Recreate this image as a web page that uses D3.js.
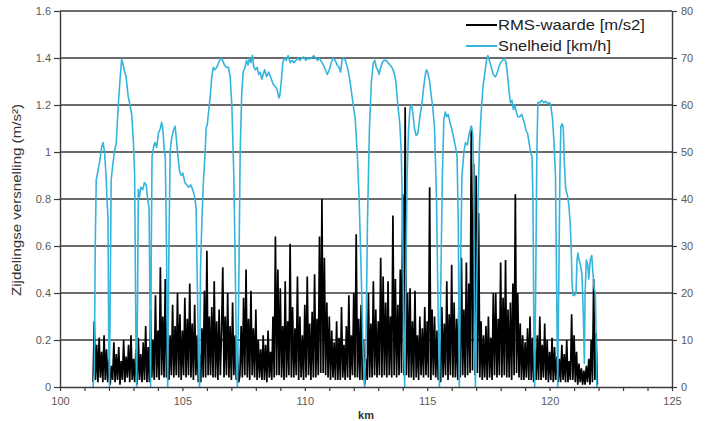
<!DOCTYPE html>
<html>
<head>
<meta charset="utf-8">
<script src="https://cdn.jsdelivr.net/npm/d3@7"></script>
<style>
  body { margin: 0; background: #fff; }
  svg { display: block; font-family: "Liberation Sans", Arial, sans-serif; }
</style>
</head>
<body>
<div id="chart"></div>
<script>
// axis ticks
const kmTicks = [100, 101, 102, 103, 104, 105, 106, 107, 108, 109, 110, 111, 112, 113, 114, 115, 116, 117, 118, 119, 120, 121, 122, 123, 124, 125];
const kmLabels = [100, 105, 110, 115, 120, 125];
const rmsTicks = [0, 0.2, 0.4, 0.6, 0.8, 1, 1.2, 1.4, 1.6];
const speedTicks = [0, 10, 20, 30, 40, 50, 60, 70, 80];

// legend
const seriesNames = ["RMS-waarde [m/s2]", "Snelheid [km/h]"];

// RMS-waarde, one sample every 0.05 km from 101.35 km
const rmsStart = 101.35;
const rmsStep = 0.05;
const rmsValues = [
  0.02, 0.28, 0.03, 0.18, 0.02, 0.21, 0.04, 0.15, 0.02, 0.22, 0.03, 0.16, 0.02, 0.12, 0.01, 0.09, 0.03, 0.19, 0.02, 0.14,
  0.03, 0.17, 0.01, 0.11, 0.03, 0.20, 0.02, 0.13, 0.04, 0.18, 0.02, 0.22, 0.03, 0.12, 0.02, 0.16, 0.01, 0.21, 0.03, 0.14,
  0.02, 0.19, 0.03, 0.26, 0.02, 0.17, 0.02, 0.33, 0.04, 0.20, 0.03, 0.39, 0.04, 0.24, 0.03, 0.51, 0.05, 0.30, 0.04, 0.46,
  0.04, 0.28, 0.03, 0.22, 0.05, 0.35, 0.04, 0.26, 0.05, 0.40, 0.04, 0.31, 0.03, 0.24, 0.05, 0.38, 0.04, 0.29, 0.05, 0.44,
  0.04, 0.27, 0.03, 0.35, 0.05, 0.22, 0.02, 0.14, 0.02, 0.25, 0.04, 0.41, 0.04, 0.58, 0.05, 0.30, 0.05, 0.34, 0.04, 0.45,
  0.04, 0.28, 0.03, 0.33, 0.05, 0.24, 0.51, 0.04, 0.30, 0.05, 0.40, 0.04, 0.26, 0.03, 0.36, 0.05, 0.22, 0.03, 0.14, 0.02,
  0.05, 0.26, 0.04, 0.38, 0.05, 0.50, 0.04, 0.29, 0.03, 0.41, 0.05, 0.25, 0.04, 0.33, 0.03, 0.20, 0.04, 0.16, 0.03, 0.22,
  0.03, 0.18, 0.02, 0.24, 0.04, 0.15, 0.03, 0.30, 0.04, 0.64, 0.05, 0.50, 0.05, 0.42, 0.04, 0.26, 0.03, 0.45, 0.04, 0.28,
  0.05, 0.61, 0.04, 0.34, 0.04, 0.25, 0.05, 0.47, 0.03, 0.30, 0.04, 0.22, 0.03, 0.35, 0.04, 0.47, 0.05, 0.27, 0.03, 0.32,
  0.04, 0.48, 0.04, 0.29, 0.05, 0.64, 0.06, 0.80, 0.06, 0.55, 0.05, 0.36, 0.04, 0.30, 0.03, 0.24, 0.04, 0.19, 0.03, 0.28,
  0.03, 0.21, 0.03, 0.34, 0.04, 0.18, 0.03, 0.26, 0.04, 0.39, 0.03, 0.22, 0.05, 0.40, 0.04, 0.65, 0.04, 0.29, 0.03, 0.35,
  0.03, 0.20, 0.01, 0.12, 0.03, 0.40, 0.04, 0.27, 0.04, 0.45, 0.05, 0.33, 0.04, 0.28, 0.05, 0.55, 0.04, 0.47, 0.05, 0.36,
  0.04, 0.45, 0.05, 0.30, 0.04, 0.73, 0.05, 0.46, 0.04, 0.35, 0.05, 0.50, 0.06, 0.82, 0.05, 1.19, 0.05, 0.40, 0.04, 0.42,
  0.04, 0.28, 0.03, 0.41, 0.04, 0.22, 0.03, 0.30, 0.05, 0.25, 0.04, 0.34, 0.05, 0.28, 0.04, 0.85, 0.03, 0.33, 0.05, 0.30,
  0.04, 0.24, 0.03, 0.20, 0.02, 0.34, 0.04, 0.27, 0.05, 0.45, 0.03, 0.31, 0.05, 0.52, 0.04, 0.36, 0.04, 0.29, 0.03, 0.40,
  0.04, 0.55, 0.05, 0.33, 0.04, 0.53, 0.05, 0.44, 0.06, 1.11, 0.07, 0.95, 0.05, 0.90, 0.06, 0.74, 0.04, 0.28, 0.03, 0.22,
  0.04, 0.26, 0.03, 0.30, 0.04, 0.21, 0.03, 0.40, 0.05, 0.40, 0.04, 0.29, 0.05, 0.53, 0.04, 0.38, 0.05, 0.54, 0.04, 0.33,
  0.04, 0.36, 0.03, 0.44, 0.05, 0.82, 0.06, 0.40, 0.04, 0.27, 0.03, 0.22, 0.03, 0.19, 0.04, 0.25, 0.03, 0.30, 0.03, 0.21,
  0.02, 0.16, 0.03, 0.22, 0.03, 0.30, 0.03, 0.18, 0.04, 0.27, 0.03, 0.20, 0.02, 0.15, 0.03, 0.21, 0.02, 0.17, 0.03, 0.13,
  0.02, 0.12, 0.02, 0.18, 0.03, 0.14, 0.02, 0.20, 0.02, 0.11, 0.03, 0.31, 0.03, 0.22, 0.02, 0.15, 0.01, 0.10, 0.02, 0.08,
  0.01, 0.07, 0.01, 0.09, 0.02, 0.12, 0.01, 0.20, 0.02, 0.46, 0.03, 0.23, 0.01
];

// Snelheid
const speedKm = [
  101.35, 101.40, 101.44, 101.48, 101.55, 101.62, 101.70, 101.76, 101.82, 101.88, 101.92, 101.96, 101.99, 102.02,
  102.06, 102.09, 102.15, 102.22, 102.30, 102.38, 102.46, 102.52, 102.56, 102.62, 102.70, 102.78, 102.86, 102.93,
  103.00, 103.05, 103.10, 103.13, 103.17, 103.20, 103.25, 103.30, 103.38, 103.45, 103.52, 103.58, 103.64, 103.67,
  103.70, 103.73, 103.76, 103.82, 103.88, 103.95, 104.02, 104.10, 104.15, 104.20, 104.25, 104.30, 104.35, 104.40,
  104.45, 104.50, 104.56, 104.63, 104.70, 104.75, 104.80, 104.88, 104.95, 105.02, 105.10, 105.18, 105.26, 105.34,
  105.42, 105.50, 105.56, 105.60, 105.66, 105.70, 105.74, 105.80, 105.86, 105.92, 105.97, 106.02, 106.08, 106.14,
  106.20, 106.26, 106.32, 106.40, 106.48, 106.56, 106.64, 106.72, 106.80, 106.88, 106.95, 107.02, 107.10, 107.16,
  107.21, 107.25, 107.30, 107.36, 107.42, 107.48, 107.56, 107.62, 107.68, 107.74, 107.80, 107.86, 107.92, 107.98,
  108.05, 108.12, 108.18, 108.24, 108.30, 108.36, 108.44, 108.52, 108.60, 108.70, 108.78, 108.86, 108.94, 108.98,
  109.04, 109.10, 109.16, 109.24, 109.32, 109.40, 109.48, 109.56, 109.64, 109.72, 109.80, 109.88, 109.96, 110.04,
  110.12, 110.20, 110.28, 110.36, 110.44, 110.52, 110.60, 110.68, 110.76, 110.84, 110.92, 111.00, 111.08, 111.16,
  111.24, 111.32, 111.40, 111.46, 111.52, 111.58, 111.66, 111.74, 111.82, 111.90, 111.98, 112.06, 112.14, 112.22,
  112.30, 112.38, 112.44, 112.50, 112.56, 112.64, 112.72, 112.80, 112.86, 112.92, 112.98, 113.04, 113.10, 113.16,
  113.24, 113.32, 113.40, 113.48, 113.56, 113.64, 113.72, 113.80, 113.88, 113.94, 114.00, 114.04, 114.08, 114.12,
  114.18, 114.24, 114.30, 114.36, 114.42, 114.48, 114.55, 114.62, 114.70, 114.78, 114.86, 114.94, 114.98, 115.04,
  115.10, 115.16, 115.22, 115.30, 115.38, 115.45, 115.50, 115.55, 115.62, 115.68, 115.74, 115.80, 115.86, 115.92,
  116.00, 116.08, 116.16, 116.22, 116.27, 116.31, 116.36, 116.42, 116.50, 116.56, 116.64, 116.72, 116.80, 116.86,
  116.90, 116.94, 116.97, 117.02, 117.08, 117.14, 117.20, 117.28, 117.36, 117.42, 117.48, 117.54, 117.62, 117.70,
  117.78, 117.84, 117.92, 118.00, 118.08, 118.16, 118.22, 118.28, 118.34, 118.40, 118.46, 118.52, 118.58, 118.64,
  118.70, 118.78, 118.86, 118.92, 118.98, 119.04, 119.10, 119.16, 119.22, 119.28, 119.32, 119.36, 119.39, 119.43,
  119.48, 119.52, 119.60, 119.68, 119.76, 119.84, 119.92, 120.00, 120.06, 120.12, 120.18, 120.24, 120.29, 120.33,
  120.37, 120.42, 120.46, 120.52, 120.56, 120.60, 120.66, 120.72, 120.78, 120.84, 120.88, 120.92, 120.96, 121.02,
  121.08, 121.12, 121.16, 121.20, 121.26, 121.32, 121.38, 121.42, 121.45, 121.50, 121.56, 121.60, 121.66, 121.72,
  121.76, 121.82, 121.87, 121.90, 121.93
];
const speedKmh = [
  0, 3, 30, 44, 46, 48, 51, 52, 50, 45, 40, 36, 10, 0,
  25, 44, 47, 50, 52, 60, 66, 69.8, 69, 67.5, 66, 62, 60, 58,
  52, 45, 10, 0, 20, 42, 40.5, 42.5, 42, 43.5, 43, 40, 38, 20,
  0, 30, 49, 51, 52, 51, 54, 55, 56.3, 55, 51, 49, 30, 0,
  30, 50, 53, 54.5, 55.5, 53, 50, 46, 45, 45.5, 43.5, 43, 42.5, 43,
  42, 40.5, 38, 25, 5, 0, 25, 36, 44, 49, 55, 56, 59, 62,
  66, 68, 67.5, 68, 69, 70, 69.5, 68.5, 68, 68, 66, 60, 45, 25,
  5, 0, 20, 50, 62, 67, 68, 69.5, 68.5, 70, 69, 70.5, 68, 67.5,
  68, 66.5, 67, 65.5, 66.5, 67.5, 66, 67, 66, 64.5, 64, 63.5, 61.5, 62,
  65, 69, 70, 69.5, 70.5, 69, 69.5, 69, 69.5, 70, 69.5, 70, 70.2, 69.5,
  70, 69.8, 70, 70.5, 70, 69.5, 70, 69.2, 68.5, 67.5, 66.5, 67.5, 69, 70,
  69.5, 68.5, 68, 67, 69.5, 70, 69.5, 68, 66, 63, 60, 57, 50, 40,
  25, 8, 0, 10, 35, 55, 65, 69, 69.5, 68, 67.5, 66.5, 68, 69,
  69.5, 69.5, 69, 68.5, 68, 67, 65, 60, 56, 50, 35, 10, 0, 20,
  45, 55, 59.5, 60, 58, 55, 53.5, 54, 57.5, 60, 64, 67, 67.5, 66.5,
  65, 62, 60, 55, 40, 15, 0, 20, 45, 57, 58.5, 57.5, 58, 56.5,
  55, 53, 51, 49, 35, 0, 25, 45, 50, 52, 51.5, 54, 55.5, 54,
  45, 10, 0, 20, 40, 52, 58, 64, 67, 69.5, 70.5, 69.5, 68, 66.5,
  66, 66.5, 68, 69, 69.5, 70, 69, 66.5, 63, 60.5, 61, 59, 60, 58.5,
  57.5, 57.5, 58, 57, 56, 54.5, 54, 52, 50, 49, 40, 10, 0, 20,
  50, 60.5, 60.5, 61, 60.5, 60.8, 60.3, 60.5, 59.5, 57, 52, 45, 20, 0,
  20, 45, 55.5, 56, 55, 48, 42, 41, 39, 35, 30, 22, 19.5, 19.5,
  20, 27, 28.5, 27, 26, 24, 15, 5, 20, 27, 26, 23, 27, 28,
  25, 21, 20, 10, 0
];

const width = 708;
const height = 421;
const margin = { top: 11, right: 36, bottom: 34, left: 60 };

const rms = rmsValues.map((v, i) => ({ km: rmsStart + i * rmsStep, v: v }));
const speed = speedKm.map((k, i) => ({ km: k, v: speedKmh[i] }));

const x = d3.scaleLinear().domain([100, 125]).range([margin.left, width - margin.right]);
const yL = d3.scaleLinear().domain([0, 1.6]).range([height - margin.bottom, margin.top]);
const yR = d3.scaleLinear().domain([0, 80]).range([height - margin.bottom, margin.top]);

const svg = d3.select("#chart").append("svg")
  .attr("width", width)
  .attr("height", height)
  .attr("viewBox", [0, 0, width, height]);

svg.append("rect").attr("width", width).attr("height", height).attr("fill", "#fff");

// grid lines
svg.append("g")
  .selectAll("line")
  .data(rmsTicks.filter(d => d > 0))
  .join("line")
  .attr("x1", margin.left)
  .attr("x2", width - margin.right)
  .attr("y1", d => yL(d))
  .attr("y2", d => yL(d))
  .attr("stroke", "#3a3a3a")
  .attr("stroke-width", 1.4);

// RMS series
svg.append("path")
  .datum(rms)
  .attr("fill", "none")
  .attr("stroke", "#000")
  .attr("stroke-width", 1.7)
  .attr("stroke-linejoin", "bevel")
  .attr("d", d3.line().x(d => x(d.km)).y(d => yL(d.v)));

// speed series
svg.append("path")
  .datum(speed)
  .attr("fill", "none")
  .attr("stroke", "#35b4dc")
  .attr("stroke-width", 1.6)
  .attr("stroke-linejoin", "round")
  .attr("d", d3.line().x(d => x(d.km)).y(d => yR(d.v)));

function styleAxis(g) {
  g.select(".domain").attr("stroke", "#3a3a3a").attr("stroke-width", 1.4);
  g.selectAll(".tick line").attr("stroke", "#3a3a3a").attr("stroke-width", 1.2);
  g.selectAll(".tick text")
    .attr("fill", "#5a5a5a")
    .attr("font-size", 11)
    .attr("font-family", "Liberation Sans, Arial, sans-serif");
}

svg.append("g")
  .attr("transform", `translate(0,${height - margin.bottom})`)
  .call(d3.axisBottom(x).tickValues(kmTicks).tickSize(4).tickPadding(6).tickSizeOuter(0)
    .tickFormat(d => kmLabels.includes(d) ? d : ""))
  .call(styleAxis);

svg.append("g")
  .attr("transform", `translate(${margin.left},0)`)
  .call(d3.axisLeft(yL).tickValues(rmsTicks).tickSize(6).tickPadding(3).tickSizeOuter(0)
    .tickFormat(d => String(d)))
  .call(styleAxis);

svg.append("g")
  .attr("transform", `translate(${width - margin.right},0)`)
  .call(d3.axisRight(yR).tickValues(speedTicks).tickSize(5).tickPadding(4).tickSizeOuter(0))
  .call(styleAxis);

// axis titles
svg.append("text")
  .attr("x", (margin.left + width - margin.right) / 2)
  .attr("y", 419)
  .attr("text-anchor", "middle")
  .attr("font-size", 11)
  .attr("font-weight", "bold")
  .attr("fill", "#333")
  .text("km");

svg.append("text")
  .attr("transform", "translate(21,200) rotate(-90)")
  .attr("text-anchor", "middle")
  .attr("font-size", 13)
  .attr("fill", "#333")
  .attr("textLength", 192)
  .attr("lengthAdjust", "spacingAndGlyphs")
  .text("Zijdelingse versnelling (m/s²)");

// legend
const legendWidths = [147, 113];
const legend = svg.append("g")
  .attr("font-size", 15)
  .selectAll("g")
  .data(seriesNames)
  .join("g")
  .attr("transform", (d, i) => `translate(466,${25 + i * 21})`);

legend.append("line")
  .attr("x1", 0)
  .attr("x2", 31)
  .attr("stroke", (d, i) => i === 0 ? "#000" : "#35b4dc")
  .attr("stroke-width", 2);

legend.append("text")
  .attr("x", 32)
  .attr("dy", "0.35em")
  .attr("fill", "#222")
  .attr("textLength", (d, i) => legendWidths[i])
  .attr("lengthAdjust", "spacingAndGlyphs")
  .text(d => d);
</script>
</body>
</html>
